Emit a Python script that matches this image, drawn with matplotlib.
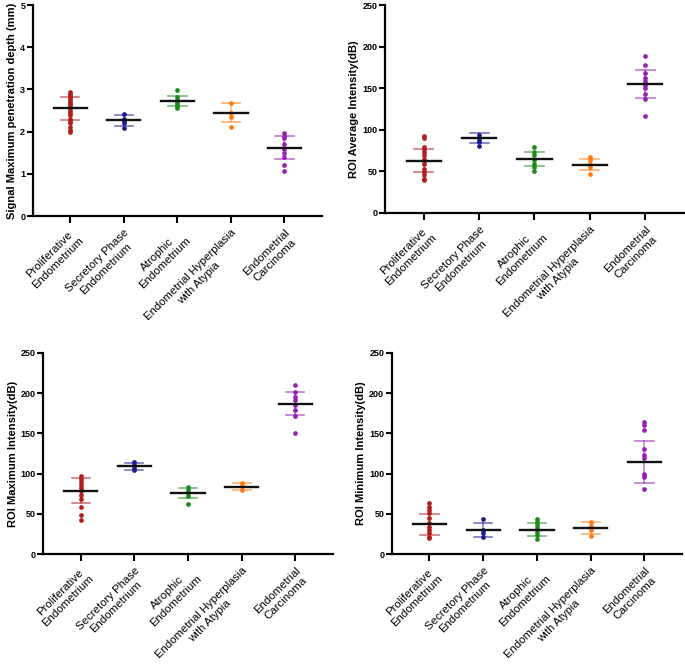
import matplotlib
matplotlib.use('Agg')
import matplotlib.pyplot as plt
import numpy as np

plt.rcParams['font.family'] = ['Liberation Sans', 'DejaVu Sans']

groups = ['Proliferative\nEndometrium', 'Secretory Phase\nEndometrium', 'Atrophic\nEndometrium',
          'Endometrial Hyperplasia\nwith Atypia', 'Endometrial\nCarcinoma']
colors = ['#B01E1E', '#1C1C8E', '#1E8A1E', '#FF7A12', '#9420B0']

# panel 1: signal maximum penetration depth (mm)
depth_points = [
    [2.95, 2.9, 2.85, 2.8, 2.75, 2.7, 2.65, 2.6, 2.55, 2.5, 2.45, 2.4, 2.3, 2.25, 2.2, 2.1, 2.05, 2.0],
    [2.43, 2.3, 2.25, 2.2, 2.08],
    [2.98, 2.82, 2.75, 2.7, 2.65, 2.6, 2.57],
    [2.68, 2.45, 2.35, 2.1],
    [1.98, 1.9, 1.85, 1.7, 1.6, 1.5, 1.4, 1.2, 1.07],
]
depth_mean = [2.55, 2.27, 2.72, 2.45, 1.62]
depth_sd = [0.27, 0.135, 0.12, 0.23, 0.27]

# panel 2: ROI average intensity (dB)
avg_points = [
    [92, 89.5, 79, 77, 73, 69, 65, 62, 59, 53, 49, 45, 41, 39],
    [93.5, 88, 85.5, 80],
    [79.5, 73, 69, 64, 59, 55, 50.6],
    [67, 63, 59, 55, 47],
    [189, 178, 168, 162, 158, 154, 150, 142.5, 137, 117],
]
avg_mean = [62.5, 89.5, 65, 58, 155]
avg_sd = [14, 6, 8.2, 7, 16.8]

# panel 3: ROI maximum intensity (dB)
max_points = [
    [97, 94, 90, 86, 82, 78, 73.5, 69, 59, 49, 42.5],
    [114, 111, 107, 104],
    [83, 80, 75.6, 72, 62],
    [89, 85, 80],
    [210, 201.6, 195.5, 191, 185, 179, 171.5, 151],
]
max_mean = [79, 109, 76, 84, 187]
max_sd = [15.2, 4.3, 6, 4.5, 14]

# panel 4: ROI minimum intensity (dB)
min_points = [
    [64, 59, 55, 51, 44.6, 38.4, 34, 30, 26, 22, 20.6],
    [43.8, 30, 26, 22],
    [43.8, 40.5, 36, 32, 28, 24, 18.6],
    [40.5, 35, 30, 22.7],
    [164.5, 160, 154, 131, 123, 119, 100, 98, 96, 80.6],
]
min_mean = [37, 30, 30.5, 33, 115]
min_sd = [12.8, 8.2, 7.7, 7.5, 26]

panels = [
    ([0.048, 0.676, 0.422, 0.3165], depth_points, depth_mean, depth_sd, 5, 1,
     'Signal Maximum penetration depth (mm)'),
    ([0.562, 0.681, 0.4365, 0.3115], avg_points, avg_mean, avg_sd, 250, 50,
     'ROI Average Intensity(dB)'),
    ([0.063, 0.169, 0.423, 0.302], max_points, max_mean, max_sd, 250, 50,
     'ROI Maximum Intensity(dB)'),
    ([0.572, 0.169, 0.4236, 0.302], min_points, min_mean, min_sd, 250, 50,
     'ROI Minimum Intensity(dB)'),
]

fig = plt.figure(figsize=(6.85, 6.67), dpi=100)

for rect, pts, means, sds, ymax, ystep, ylabel in panels:
    ax = fig.add_axes(rect)
    for i, (p, m, s, c) in enumerate(zip(pts, means, sds, colors)):
        # error bar (SD) in lighter colour
        ax.plot([i, i], [m - s, m + s], color=c, lw=1.1, alpha=0.6, zorder=2)
        ax.plot([i - 0.17, i + 0.17], [m + s, m + s], color=c, lw=1.2, alpha=0.6, zorder=2)
        ax.plot([i - 0.17, i + 0.17], [m - s, m - s], color=c, lw=1.2, alpha=0.6, zorder=2)
        ax.plot(np.full(len(p), i), p, 'o', color=c, ms=3.4, mew=0, zorder=3)
        # mean line
        ax.plot([i - 0.31, i + 0.31], [m, m], color='#111111', lw=1.7, zorder=4)
    ax.set_xlim(-0.7, 4.7)
    ax.set_ylim(0, ymax)
    ax.set_yticks(np.arange(0, ymax + ystep / 2, ystep))
    ax.set_xticks(range(len(groups)))
    ax.set_xticklabels(groups, rotation=45, ha='right', rotation_mode='anchor',
                       fontsize=8.2, multialignment='center')
    for lab in ax.get_yticklabels():
        lab.set_fontweight('bold')
    ax.tick_params(axis='y', labelsize=6.5, width=1.5, length=4, pad=1.5)
    ax.tick_params(axis='x', width=1.5, length=5, pad=3)
    for side in ['top', 'right']:
        ax.spines[side].set_visible(False)
    for side in ['left', 'bottom']:
        ax.spines[side].set_linewidth(1.6)
    ax.set_ylabel(ylabel, fontsize=8, fontweight='bold', labelpad=2)

fig.savefig('out.png', dpi=100)
